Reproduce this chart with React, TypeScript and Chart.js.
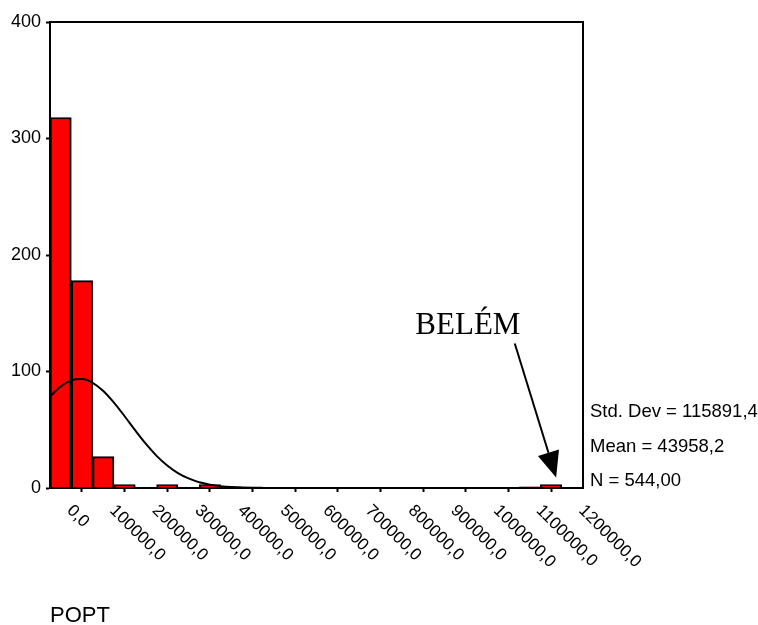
import { useEffect, useRef } from "react";
import { Chart, registerables } from "chart.js";

Chart.register(...registerables);

const binCenters = [
  0, 50000, 100000, 150000, 200000, 250000, 300000, 350000, 400000, 450000,
  500000, 550000, 600000, 650000, 700000, 750000, 800000, 850000, 900000,
  950000, 1000000, 1050000, 1100000, 1150000, 1200000,
];
const binCounts = [
  318, 178, 27, 3, 0, 3, 0, 3, 1, 0, 0, 0, 0, 0, 0, 0, 0, 0, 0, 0, 0, 0, 1, 3, 0,
];

const curveX = [
  -25000, 0, 25000, 50000, 75000, 100000, 125000, 150000, 175000, 200000,
  225000, 250000, 275000, 300000, 325000, 350000, 375000, 400000, 425000,
  450000, 475000, 500000, 1225000,
];
const curveY = [
  78.5, 87.1, 92.4, 93.5, 90.3, 83.3, 73.3, 61.6, 49.4, 37.8, 27.6, 19.3, 12.8,
  8.2, 4.9, 2.9, 1.6, 0.8, 0.4, 0.2, 0.1, 0.04, 0,
];

const xTickValues = [
  0, 100000, 200000, 300000, 400000, 500000, 600000, 700000, 800000, 900000,
  1000000, 1100000, 1200000,
];
const xTickLabels = [
  "0,0", "100000,0", "200000,0", "300000,0", "400000,0", "500000,0",
  "600000,0", "700000,0", "800000,0", "900000,0", "1000000,0", "1100000,0",
  "1200000,0",
];
const yTickValues = [0, 100, 200, 300, 400];

const statLines = ["Std. Dev = 115891,4", "Mean = 43958,2", "N = 544,00"];
const axisTitle = "POPT";
const annotationText = "BELÉM";
const annotationTextAt = [955000, 132];
const arrowFrom = [1065000, 124];
const arrowTo = [1162000, 9];

const SANS = "'Liberation Sans', Arial, sans-serif";
const SERIF = "'Liberation Serif', 'Times New Roman', serif";

export default function App() {
  const ref = useRef<HTMLCanvasElement>(null);

  useEffect(() => {
    const canvas = ref.current!;
    const overlay = {
      id: "overlay",
      afterDraw(chart: any) {
        const c = chart.ctx as CanvasRenderingContext2D;
        const area = chart.chartArea;
        const xs = chart.scales.x;
        const ys = chart.scales.y;
        c.save();
        // frame: top and right
        c.strokeStyle = "#000";
        c.lineWidth = 2;
        c.beginPath();
        c.moveTo(area.left, area.top);
        c.lineTo(area.right, area.top);
        c.lineTo(area.right, area.bottom);
        c.stroke();

        // rotated x tick labels
        c.fillStyle = "#000";
        c.font = `17px ${SANS}`;
        c.textAlign = "left";
        c.textBaseline = "top";
        xTickValues.forEach((v, i) => {
          const px = xs.getPixelForValue(v);
          c.save();
          c.translate(px + 15, area.bottom + 14);
          c.rotate(Math.PI / 4);
          c.fillText(xTickLabels[i], 0, 0);
          c.restore();
        });

        // axis title
        c.font = `22px ${SANS}`;
        c.textBaseline = "alphabetic";
        c.fillText(axisTitle, area.left, 622);

        // stats
        c.font = `18.5px ${SANS}`;
        c.textBaseline = "middle";
        const offs = [-76, -41, -7];
        statLines.forEach((s, i) => {
          c.fillText(s, area.right + 7, area.bottom + offs[i]);
        });

        // annotation text
        c.font = `31px ${SERIF}`;
        c.textAlign = "center";
        c.textBaseline = "alphabetic";
        c.fillText(
          annotationText,
          xs.getPixelForValue(annotationTextAt[0]),
          ys.getPixelForValue(annotationTextAt[1])
        );

        // arrow
        const x1 = xs.getPixelForValue(arrowFrom[0]);
        const y1 = ys.getPixelForValue(arrowFrom[1]);
        const x2 = xs.getPixelForValue(arrowTo[0]);
        const y2 = ys.getPixelForValue(arrowTo[1]);
        const ang = Math.atan2(y2 - y1, x2 - x1);
        const headLen = 26;
        const headHalf = 11;
        const bx = x2 - headLen * Math.cos(ang);
        const by = y2 - headLen * Math.sin(ang);
        c.lineWidth = 2;
        c.beginPath();
        c.moveTo(x1, y1);
        c.lineTo(bx, by);
        c.stroke();
        c.beginPath();
        c.moveTo(x2, y2);
        c.lineTo(bx + headHalf * Math.sin(ang), by - headHalf * Math.cos(ang));
        c.lineTo(bx - headHalf * Math.sin(ang), by + headHalf * Math.cos(ang));
        c.closePath();
        c.fill();
        c.restore();
      },
    };

    const chart = new Chart(canvas, {
      type: "bar",
      data: {
        datasets: [
          {
            type: "line",
            data: curveX.map((x, i) => ({ x, y: curveY[i] })),
            borderColor: "#000",
            borderWidth: 2,
            pointRadius: 0,
            fill: false,
            cubicInterpolationMode: "monotone",
            order: 0,
          } as any,
          {
            type: "bar",
            data: binCenters.map((x, i) => ({ x, y: binCounts[i] })),
            backgroundColor: "#ff0000",
            borderColor: "#000",
            borderWidth: 2,
            barPercentage: 1,
            categoryPercentage: 1,
            order: 1,
          } as any,
        ],
      },
      options: {
        responsive: false,
        animation: false,
        devicePixelRatio: 1,
        layout: { padding: { top: 22, right: 175, left: 0, bottom: 0 } },
        plugins: { legend: { display: false }, tooltip: { enabled: false } },
        scales: {
          x: {
            type: "linear",
            min: -25000,
            max: 1225000,
            offset: false,
            afterBuildTicks: (s: any) => {
              s.ticks = xTickValues.map((v) => ({ value: v }));
            },
            afterFit: (s: any) => {
              s.height = 137;
            },
            ticks: { display: false },
            grid: {
              display: true,
              drawOnChartArea: false,
              drawTicks: true,
              tickLength: 4,
              tickColor: "#000",
              tickWidth: 2,
            },
            border: { display: true, color: "#000", width: 2 },
          },
          y: {
            min: 0,
            max: 400,
            afterBuildTicks: (s: any) => {
              s.ticks = yTickValues.map((v) => ({ value: v }));
            },
            afterFit: (s: any) => {
              s.width = 50;
            },
            ticks: {
              color: "#000",
              font: { family: SANS, size: 18 },
              padding: 5,
            },
            grid: {
              display: true,
              drawOnChartArea: false,
              drawTicks: true,
              tickLength: 4,
              tickColor: "#000",
              tickWidth: 2,
            },
            border: { display: true, color: "#000", width: 2 },
          },
        },
      },
      plugins: [overlay],
    });
    return () => chart.destroy();
  }, []);

  return (
    <div
      style={{
        position: "fixed",
        left: 0,
        top: 0,
        width: 758,
        height: 625,
        background: "#fff",
      }}
    >
      <canvas ref={ref} width={758} height={625} style={{ display: "block" }} />
    </div>
  );
}
